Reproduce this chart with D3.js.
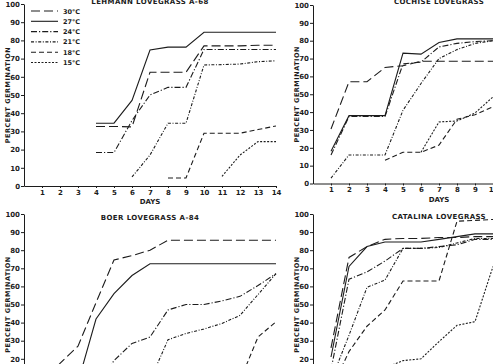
<!DOCTYPE html>
<html>
<head>
<meta charset="utf-8">
<script src="https://cdn.jsdelivr.net/npm/d3@7"></script>
<style>
  body { margin: 0; background: #fff; }
  svg { display: block; }
  text { font-family: "DejaVu Sans", sans-serif; font-weight: bold; fill: #1c1c1c; }
</style>
</head>
<body>
<div id="chart"></div>
<script>
const temps = ["30°C", "27°C", "24°C", "21°C", "18°C", "15°C"];
const dayTicks = [1, 2, 3, 4, 5, 6, 7, 8, 9, 10, 11, 12, 13, 14];
const pctTicks = [0, 10, 20, 30, 40, 50, 60, 70, 80, 90, 100];

// percent germination by day, one list per temperature
const lehmann = [
  { temp: "30°C", days: [4, 5, 6, 7, 8, 9, 10, 11, 12, 13, 14], pct: [32.7, 32.7, 32.5, 62.5, 62.5, 62.5, 77, 77, 77, 77.3, 77.3] },
  { temp: "27°C", days: [4, 5, 6, 7, 8, 9, 10, 11, 12, 13, 14], pct: [34.5, 34.5, 47, 74.7, 76.3, 76.3, 84.5, 84.5, 84.5, 84.5, 84.5] },
  { temp: "24°C", days: [4, 5, 6, 7, 8, 9, 10, 11, 12, 13, 14], pct: [18.4, 18.4, 36, 50, 54.2, 54.2, 75, 75, 75, 75, 75] },
  { temp: "21°C", days: [6, 7, 8, 9, 10, 11, 12, 13, 14], pct: [5, 17, 34.5, 34.5, 66.5, 66.7, 67, 68.3, 68.8] },
  { temp: "18°C", days: [8, 9, 10, 11, 12, 13, 14], pct: [4.4, 4.4, 29, 29, 29, 31, 33] },
  { temp: "15°C", days: [11, 12, 13, 14], pct: [5.3, 17, 24.4, 24.4] }
];

const cochise = [
  { temp: "30°C", days: [1, 2, 3, 4, 5, 6, 7, 8, 9, 10], pct: [30.5, 57, 57, 65, 66, 68.5, 68.5, 68.5, 68.5, 68.5] },
  { temp: "27°C", days: [1, 2, 3, 4, 5, 6, 7, 8, 9, 10], pct: [18, 38, 38, 38, 73, 72.5, 79, 81, 81, 81] },
  { temp: "24°C", days: [1, 2, 3, 4, 5, 6, 7, 8, 9, 10], pct: [16, 37.5, 37.5, 37.5, 67, 68, 76.5, 78.5, 79.5, 80] },
  { temp: "21°C", days: [1, 2, 3, 4, 5, 6, 7, 8, 9, 10], pct: [3, 16, 16, 16, 41, 56, 70, 75, 78.5, 80] },
  { temp: "18°C", days: [4, 5, 6, 7, 8, 9, 10], pct: [13, 17.5, 17.5, 21.5, 36, 38.5, 43] },
  { temp: "15°C", days: [6, 7, 8, 9, 10], pct: [17.5, 34.5, 35, 39.5, 48.5] }
];

const boer = [
  { temp: "30°C", days: [1, 2, 3, 4, 5, 6, 7, 8, 9, 10, 11, 12, 13, 14], pct: [5, 17.5, 27, 51, 74.6, 77, 80, 85.5, 85.5, 85.5, 85.5, 85.5, 85.5, 85.5] },
  { temp: "27°C", days: [3, 4, 5, 6, 7, 8, 9, 10, 11, 12, 13, 14], pct: [7, 42, 56, 66, 72.5, 72.5, 72.5, 72.5, 72.5, 72.5, 72.5, 72.5] },
  { temp: "24°C", days: [4, 5, 6, 7, 8, 9, 10, 11, 12, 13, 14], pct: [4, 19, 28.5, 32, 47, 50, 50, 52, 54.5, 60.5, 67] },
  { temp: "21°C", days: [7, 8, 9, 10, 11, 12, 13, 14], pct: [8, 30.5, 34, 36.5, 39.5, 44, 55.5, 67] },
  { temp: "18°C", days: [12, 13, 14], pct: [8, 32, 40.5] }
];

const catalina = [
  { temp: "30°C", days: [1, 2, 3, 4, 5, 6, 7, 8, 9, 10], pct: [26, 76, 82, 86, 86.5, 86.5, 87, 87, 87.5, 87.5] },
  { temp: "27°C", days: [1, 2, 3, 4, 5, 6, 7, 8, 9, 10], pct: [21, 71, 82, 84.5, 84.5, 84.5, 86, 87.5, 89, 89] },
  { temp: "24°C", days: [1, 2, 3, 4, 5, 6, 7, 8, 9, 10], pct: [14, 64, 68, 74, 81, 81, 82, 83, 86, 86] },
  { temp: "21°C", days: [1, 2, 3, 4, 5, 6, 7, 8, 9, 10], pct: [8, 33, 59.5, 63.5, 81, 81, 81.5, 84, 86.5, 86.5] },
  { temp: "18°C", days: [1, 2, 3, 4, 5, 6, 7, 8, 9, 10], pct: [3, 24, 38, 47, 63, 63, 63, 96, 96.5, 97] },
  { temp: "15°C", days: [3, 4, 5, 6, 7, 8, 9, 10], pct: [4, 15, 19, 20, 29.5, 38.5, 40.5, 71] }
];

const dash = {
  "30°C": "9,4",
  "27°C": null,
  "24°C": "6,2,1.2,2",
  "21°C": "3,1.6,1,1.6",
  "18°C": "5,3",
  "15°C": "2,1.5"
};

const width = 493, height = 364;

const svg = d3.select("#chart").append("svg")
  .attr("width", width)
  .attr("height", height);

const panels = [
  { title: "LEHMANN LOVEGRASS A-68", data: lehmann, x0: 24, y0: 186, y1: 4, titleY: 4, legend: true },
  { title: "COCHISE LOVEGRASS", data: cochise, x0: 313, y0: 183.5, y1: 5, titleY: 4 },
  { title: "BOER LOVEGRASS A-84", data: boer, x0: 24, y0: 395, y1: 214, titleY: 219.5 },
  { title: "CATALINA LOVEGRASS", data: catalina, x0: 313, y0: 395, y1: 214, titleY: 219 }
];

panels.forEach(p => {
  const x = d3.scaleLinear().domain([0, 14]).range([p.x0, p.x0 + 252]);
  const y = d3.scaleLinear().domain([0, 100]).range([p.y0, p.y1]);
  const g = svg.append("g");

  const yAxis = g.append("g")
    .attr("transform", `translate(${p.x0},0)`)
    .call(d3.axisLeft(y).tickValues(pctTicks).tickSizeInner(3).tickSizeOuter(0).tickPadding(1));
  const xAxis = g.append("g")
    .attr("transform", `translate(0,${p.y0})`)
    .call(d3.axisBottom(x).tickValues(dayTicks).tickSizeInner(2).tickSizeOuter(0).tickPadding(2));

  [yAxis, xAxis].forEach(a => {
    a.selectAll("path, line").attr("stroke", "#1c1c1c").attr("stroke-width", 1);
    a.selectAll("text").attr("font-size", 7).attr("fill", "#1c1c1c")
      .style("font-family", "'DejaVu Sans', sans-serif").style("font-weight", "bold");
  });

  const xm = x(7);
  g.append("text")
    .attr("x", xm).attr("y", p.titleY)
    .attr("text-anchor", "middle")
    .attr("font-size", 7).attr("letter-spacing", 0.4)
    .text(p.title);

  g.append("text")
    .attr("x", xm).attr("y", p.y0 + 18)
    .attr("text-anchor", "middle")
    .attr("font-size", 7)
    .text("DAYS");

  g.append("text")
    .attr("transform", `translate(${p.x0 - 14},${(p.y0 + p.y1) / 2}) rotate(-90)`)
    .attr("text-anchor", "middle")
    .attr("font-size", 6.5).attr("letter-spacing", 0.5)
    .text("PERCENT GERMINATION");

  const line = d3.line()
    .x(d => x(d[0]))
    .y(d => y(d[1]));

  g.selectAll("path.series")
    .data(p.data)
    .join("path")
    .attr("class", "series")
    .attr("d", s => line(d3.zip(s.days, s.pct)))
    .attr("fill", "none")
    .attr("stroke", "#1c1c1c")
    .attr("stroke-width", 1.1)
    .attr("stroke-dasharray", s => dash[s.temp]);

  if (p.legend) {
    const lg = g.append("g").attr("transform", `translate(${p.x0 + 7},11)`);
    temps.forEach((t, i) => {
      lg.append("line")
        .attr("x1", 0).attr("x2", 27)
        .attr("y1", i * 10.3).attr("y2", i * 10.3)
        .attr("stroke", "#1c1c1c").attr("stroke-width", 1.1)
        .attr("stroke-dasharray", dash[t]);
      lg.append("text")
        .attr("x", 32).attr("y", i * 10.3 + 2.5)
        .attr("font-size", 6.5)
        .text(t);
    });
  }
});
</script>
</body>
</html>
